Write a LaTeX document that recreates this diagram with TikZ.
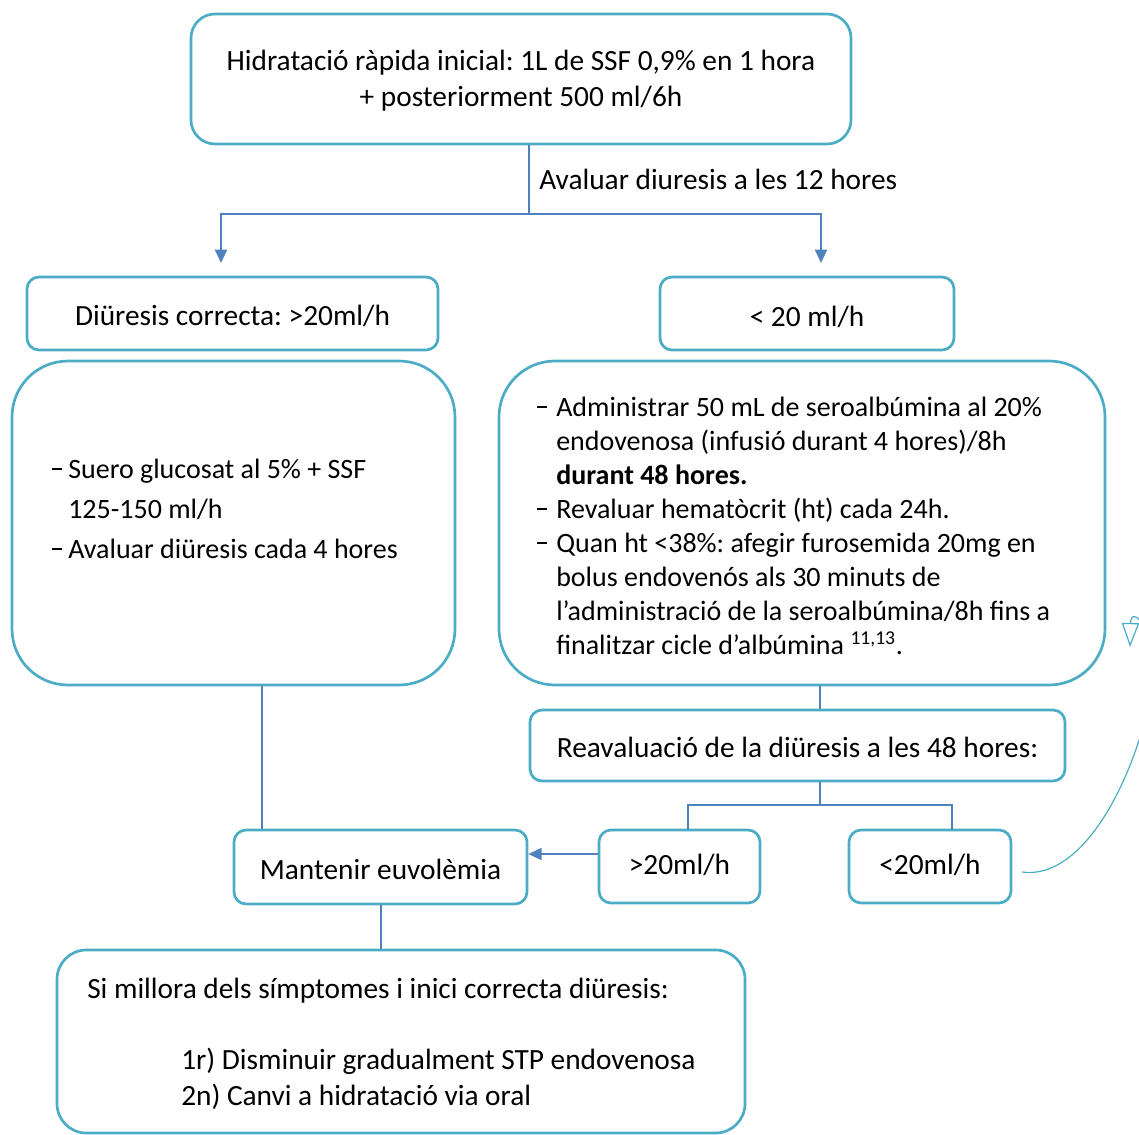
\documentclass[tikz,border=0pt]{standalone}
\usepackage{fontspec}
\setmainfont{Carlito}
\frenchspacing
\usetikzlibrary{arrows.meta,calc}
\definecolor{boxc}{HTML}{4BACC6}
\definecolor{linec}{HTML}{4F81BD}
\newcommand{\bdash}[1]{\makebox[#1][l]{\raisebox{0.3em}{\rule{7.5pt}{1.4pt}}}}
\begin{document}
\begin{tikzpicture}[x=0.75pt,y=-0.75pt,
  box/.style={draw=boxc,line width=2pt,rounded corners=9pt,fill=white,inner sep=0pt},
  txt/.style={font=\fontsize{22}{27}\selectfont,inner sep=0pt,text=black},
  conn/.style={draw=linec,line width=1.5pt},
  arr/.style={conn,-{Triangle[width=9pt,length=10pt]}}]
\useasboundingbox (0,0) rectangle (1139,1135);
% boxes
\node[box,rounded corners=18pt,minimum width=495pt,minimum height=97.5pt] (top) at (521,79) {};
\node[box,minimum width=308.25pt,minimum height=54.75pt] (dc) at (232.5,313.5) {};
\node[box,minimum width=220.5pt,minimum height=54.75pt] (lt) at (807,313.5) {};
\node[box,rounded corners=42pt,minimum width=332.25pt,minimum height=243pt] (lb) at (233.5,523) {};
\node[box,rounded corners=42pt,minimum width=454.5pt,minimum height=243pt] (rb) at (802,523) {};
\node[box,minimum width=401.25pt,minimum height=53.25pt] (reav) at (797.5,745.5) {};
\node[box,minimum width=120.75pt,minimum height=54.75pt] (gtb) at (679.5,866.5) {};
\node[box,minimum width=121.5pt,minimum height=54.75pt] (ltb) at (930,866.5) {};
\node[box,minimum width=219.75pt,minimum height=55.5pt] (mant) at (380.5,867) {};
\node[box,rounded corners=22pt,minimum width=516pt,minimum height=137.25pt] (bot) at (401,1041.5) {};
% texts
\node[txt,align=center] (ttop) at (521,81) {Hidratació ràpida inicial: 1L de SSF 0,9\% en 1 hora\\+ posteriorment 500 ml/6h};
\node[txt,anchor=west] (tav) at (539,179) {Avaluar diuresis a les 12 hores};
\node[txt] (tdc) at (232.5,316) {Diüresis correcta: >20ml/h};
\node[txt] (tlt) at (807,317) {< 20 ml/h};
\node[txt,anchor=west,align=left,font=\fontsize{21}{30}\selectfont] (tlb) at (52,509)
 {\bdash{12pt}Suero glucosat al 5\% + SSF\\
  \hspace*{12pt}125-150 ml/h\\
  \bdash{12pt}Avaluar diüresis cada 4 hores};
\node[txt,anchor=west,align=left,font=\fontsize{21}{25.5}\selectfont] (trb) at (537,526)
 {\bdash{14.25pt}Administrar 50 mL de seroalbúmina al 20\%\\
  \hspace*{14.25pt}endovenosa (infusió durant 4 hores)/8h\\
  \hspace*{14.25pt}\textbf{durant 48 hores.}\\
  \bdash{14.25pt}Revaluar hematòcrit (ht) cada 24h.\\
  \bdash{14.25pt}Quan ht <38\%: afegir furosemida 20mg en\\
  \hspace*{14.25pt}bolus endovenós als 30 minuts de\\
  \hspace*{14.25pt}l’administració de la seroalbúmina/8h fins a\\
  \hspace*{14.25pt}finalitzar cicle d’albúmina \textsuperscript{11,13}.};
\node[txt] (treav) at (797.5,747) {Reavaluació de la diüresis a les 48 hores:};
\node[txt] (tgtb) at (679.5,865) {>20ml/h};
\node[txt] (tltb) at (930,865) {<20ml/h};
\node[txt] (tmant) at (380.5,869) {Mantenir euvolèmia};
\node[txt,anchor=west] (tb1) at (87,991) {Si millora dels símptomes i inici correcta diüresis:};
\node[txt,anchor=west,align=left] (tb2) at (181,1079) {1r) Disminuir gradualment STP endovenosa\\2n) Canvi a hidratació via oral};
% connectors
\coordinate (j1) at (529,214);
\coordinate (a1) at (221,263);
\coordinate (a2) at (821,263);
\draw[conn] (j1 |- top.south) -- (j1);
\draw[arr] (j1) -| (a1);
\draw[arr] (j1) -| (a2);
\coordinate (x262) at (262,0);
\draw[conn] (lb.south -| x262) -- (mant.north -| x262);
\coordinate (x820) at (820,0);
\draw[conn] (rb.south -| x820) -- (reav.north -| x820);
\coordinate (j2) at (820,805);
\coordinate (x688) at (688,0);
\coordinate (x952) at (952,0);
\draw[conn] (reav.south -| x820) -- (j2);
\draw[conn] (j2) -| (gtb.north -| x688);
\draw[conn] (j2) -| (ltb.north -| x952);
\coordinate (y854) at (0,854);
\draw[arr] (gtb.west |- y854) -- (mant.east |- y854);
\coordinate (x381) at (381,0);
\draw[conn] (mant.south -| x381) -- (bot.north -| x381);
% curved return arrow
\coordinate (c1) at (1022,872);
\coordinate (c2) at (1130,647);
\draw[draw=boxc,line width=0.9pt,-{Triangle[open,width=13pt,length=18pt]}]
  (c1) .. controls (1080,880) and (1130,790) .. (1150,700)
  .. controls (1165,640) and (1131,600) .. (c2);
\end{tikzpicture}
\end{document}
